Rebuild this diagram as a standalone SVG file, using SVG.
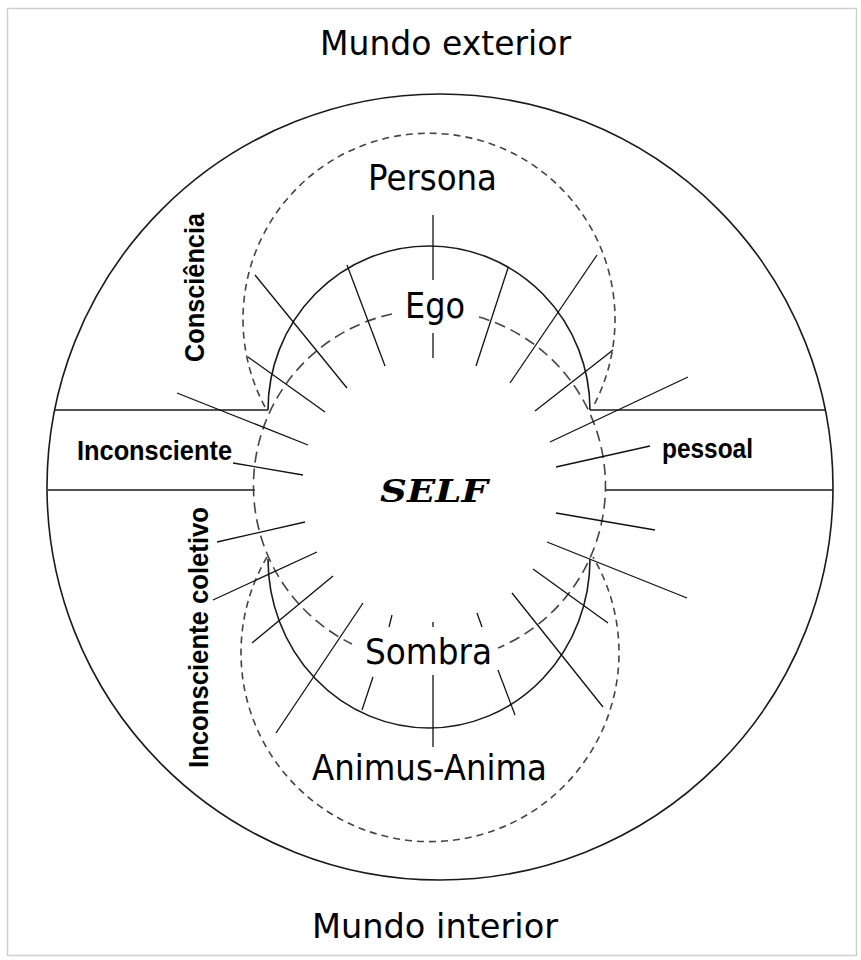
<svg xmlns="http://www.w3.org/2000/svg" width="861" height="960" viewBox="0 0 861 960">
<style>
.bg{fill:#ffffff}
.frame{fill:none;stroke:#cfcfcf;stroke-width:1.5}
.solid{fill:none;stroke:#1a1a1a;stroke-width:1.6}
.dash-o{fill:none;stroke:#444;stroke-width:1.6;stroke-dasharray:7 5}
.dash-s{fill:none;stroke:#444;stroke-width:1.6;stroke-dasharray:11 6}
.ray{stroke:#111;stroke-width:1.3;fill:none}
.lbl{font-family:"DejaVu Sans","Liberation Sans",sans-serif;font-size:35px;fill:#000}
.world{font-family:"DejaVu Sans","Liberation Sans",sans-serif;font-size:33px;fill:#000}
.zone{font-family:"Liberation Sans","Arial",sans-serif;font-weight:bold;font-size:28px;fill:#000}
.self{font-family:"DejaVu Serif","Liberation Serif",serif;font-weight:bold;font-style:italic;font-size:31px;fill:#000}
</style>
<rect class="bg" x="0" y="0" width="861" height="960"/>
<rect class="frame" x="7.5" y="8.5" width="849" height="947"/>

<g id="mundo">
  <circle class="solid" cx="440" cy="487" r="393"/>
  <line class="solid" x1="55" y1="410" x2="268" y2="410"/>
  <line class="solid" x1="48" y1="490" x2="255" y2="490"/>
  <line class="solid" x1="590" y1="410" x2="825" y2="410"/>
  <line class="solid" x1="605" y1="490" x2="833" y2="490"/>
</g>

<g id="persona-animus">
  <path class="dash-o" d="M265,407 A186,186 0 1 1 593,407"/>
  <path class="dash-o" d="M267,557 A189,189 0 1 0 593,557"/>
</g>

<g id="ego-sombra">
  <path class="solid" d="M268,410 A161,164 0 0 1 590,410"/>
  <path class="solid" d="M268,559 A161,169 0 0 0 590,559"/>
</g>

<g id="self">
  <path class="dash-s" d="M392,314 A176,176 0 0 0 352,644"/>
  <path class="dash-s" d="M479,317 A176,176 0 0 1 498,648"/>
</g>

<g id="connectors">
  <line class="ray" x1="433" y1="215" x2="433" y2="280"/>
  <line class="ray" x1="433" y1="333" x2="433" y2="358"/>
  <line class="ray" x1="347" y1="265" x2="385" y2="366"/>
  <line class="ray" x1="255" y1="275" x2="347" y2="388"/>
  <line class="ray" x1="248" y1="357" x2="325" y2="412"/>
  <line class="ray" x1="508" y1="268" x2="476" y2="366"/>
  <line class="ray" x1="597" y1="255" x2="510" y2="383"/>
  <line class="ray" x1="613" y1="350" x2="535" y2="411"/>
  <line class="ray" x1="688" y1="377" x2="550" y2="442"/>
  <line class="ray" x1="650" y1="446" x2="556" y2="467"/>
  <line class="ray" x1="177" y1="393" x2="308" y2="445"/>
  <line class="ray" x1="233" y1="463" x2="303" y2="475"/>
  <line class="ray" x1="217" y1="542" x2="305" y2="522"/>
  <line class="ray" x1="213" y1="600" x2="317" y2="552"/>
  <line class="ray" x1="252" y1="643" x2="333" y2="576"/>
  <line class="ray" x1="276" y1="733" x2="363" y2="603"/>
  <line class="ray" x1="392" y1="615" x2="389" y2="627"/>
  <line class="ray" x1="433" y1="622" x2="433" y2="627"/>
  <line class="ray" x1="373" y1="677" x2="362" y2="710"/>
  <line class="ray" x1="433" y1="675" x2="433" y2="747"/>
  <line class="ray" x1="477" y1="613" x2="482" y2="627"/>
  <line class="ray" x1="498" y1="670" x2="515" y2="715"/>
  <line class="ray" x1="512" y1="593" x2="603" y2="707"/>
  <line class="ray" x1="533" y1="569" x2="608" y2="623"/>
  <line class="ray" x1="547" y1="542" x2="687" y2="598"/>
  <line class="ray" x1="556" y1="513" x2="655" y2="530"/>
</g>

<g id="labels">
  <text class="world" x="320" y="55" textLength="251" lengthAdjust="spacingAndGlyphs">Mundo exterior</text>
  <text class="lbl" x="368" y="190" textLength="129" lengthAdjust="spacingAndGlyphs">Persona</text>
  <text class="lbl" x="405" y="318" textLength="60" lengthAdjust="spacingAndGlyphs">Ego</text>
  <text class="self" x="380" y="502" textLength="108" lengthAdjust="spacingAndGlyphs">SELF</text>
  <text class="lbl" x="365" y="664" textLength="127" lengthAdjust="spacingAndGlyphs">Sombra</text>
  <text class="lbl" x="312" y="780" textLength="235" lengthAdjust="spacingAndGlyphs">Animus-Anima</text>
  <text class="world" x="312" y="938" textLength="246" lengthAdjust="spacingAndGlyphs">Mundo interior</text>
  <text class="zone" x="77" y="460" textLength="155" lengthAdjust="spacingAndGlyphs">Inconsciente</text>
  <text class="zone" x="662" y="458" textLength="91" lengthAdjust="spacingAndGlyphs">pessoal</text>
  <text class="zone" transform="translate(204,362) rotate(-90)" x="0" y="0" textLength="149" lengthAdjust="spacingAndGlyphs">Consciência</text>
  <text class="zone" transform="translate(208,768) rotate(-90)" x="0" y="0" textLength="261" lengthAdjust="spacingAndGlyphs">Inconsciente coletivo</text>
</g>
</svg>
